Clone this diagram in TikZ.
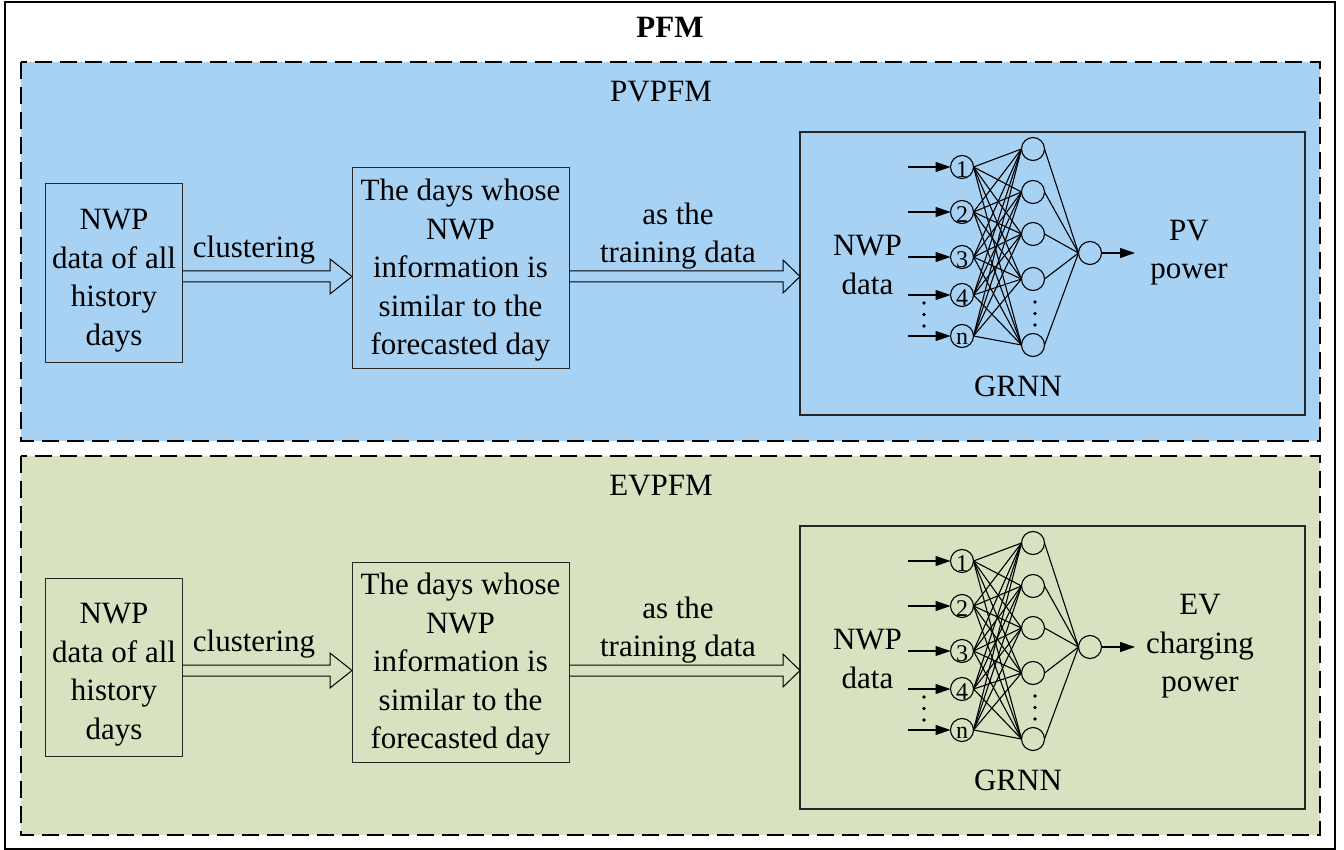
\documentclass[tikz,border=0pt]{standalone}
\usepackage{fontspec}
\setmainfont{Liberation Serif}
\usetikzlibrary{calc,arrows.meta}
\definecolor{pvblue}{RGB}{168,210,244}
\definecolor{evgreen}{RGB}{216,226,193}

\newcommand{\grnnpanel}[5]{% #1 prefix, #2 fill colour, #3 title, #4 output text, #5 output text x
  \fill[#2] (21,62) rectangle (1320,441);
  \draw[panelframe] (21,62) rectangle (1320,441);
  \node[txt] (#1title) at (661,92) {#3};
  % boxes
  \node[box, minimum width=137pt, minimum height=178.5pt] (#1b1) at (114,273.25) {};
  \node[txt] (#1t1) at (114,280.5) {NWP\\data of all\\history\\days};
  \node[box, minimum width=217pt, minimum height=200pt] (#1b2) at (460.5,268) {};
  \node[txt] (#1t2) at (460.5,270.5) {The days whose\\NWP\\information is\\similar to the\\forecasted day};
  \node[box, line width=1.8pt, minimum width=505pt, minimum height=283pt] (#1g) at (1052.5,273.5) {};
  % hollow arrows
  \draw[hollowarrow] (#1b1.east |- 0,271) -- (330,271) -- (330,259) -- (#1b2.west |- 0,276.5)
     -- (330,294) -- (330,282) -- (#1b1.east |- 0,282);
  \node[txt] (#1l1) at (254,250) {clustering};
  \draw[hollowarrow] (#1b2.east |- 0,271) -- (783,271) -- (783,260) -- (#1g.west |- 0,276.5)
     -- (783,293) -- (783,282) -- (#1b2.east |- 0,282);
  \node[txt] (#1l2) at (678,236) {as the\\training data};
  % network
  \foreach \i/\yy/\t in {1/167/1,2/212/2,3/257/3,4/295/4,5/336/n}{
    \node[neuron] (#1i\i) at (962,\yy) {};
    \node[digit] at (962,\yy+2.5) {\t};
    \coordinate (#1s\i) at (908,\yy);
    \draw[inarrow] (#1s\i) -- (#1i\i.west);
  }
  \foreach \j/\yy in {1/149,2/192,3/234,4/279,5/345}{
    \node[neuron] (#1h\j) at (1033,\yy) {};
  }
  \node[neuron] (#1o) at (1090,253) {};
  \foreach \i in {1,...,5}{
    \foreach \j in {1,...,5}{
      \draw[netline] (#1i\i.east) -- (#1h\j.west);
    }
  }
  \foreach \j in {1,...,5}{
    \draw[netline] (#1h\j.east) -- (#1o.west);
  }
  \coordinate (#1e) at (1135,253);
  \draw[inarrow] (#1o.east) -- (#1e);
  \foreach \yy in {303,314.5,326}{\fill (924,\yy) circle (1.8pt);}
  \foreach \yy in {302,313.5,325}{\fill (1035,\yy) circle (1.8pt);}
  \node[txt] (#1in) at (867.5,265) {NWP\\data};
  \node[txt] (#1out) at (#5,252.5) {#4};
  \node[txt] (#1name) at (1018,386) {GRNN};
}

\begin{document}
\begin{tikzpicture}[x=1pt,y=-1pt,
  txt/.style={font=\fontsize{31}{38.5}\selectfont, align=center, inner sep=0pt},
  box/.style={draw=black!85, line width=1pt, inner sep=0pt, outer sep=0pt},
  panelframe/.style={draw=black, line width=1.6pt, dash pattern=on 17pt off 8pt},
  hollowarrow/.style={draw=black, line width=1pt, line join=miter},
  neuron/.style={circle, draw=black, line width=1.1pt, inner sep=0pt, outer sep=0pt, minimum size=23pt},
  digit/.style={font=\fontsize{24}{24}\selectfont, inner sep=0pt},
  netline/.style={draw=black, line width=1.1pt},
  inarrow/.style={draw=black, line width=1.1pt, -{Triangle[length=15pt,width=10pt]}},
]
\useasboundingbox (0,0) rectangle (1344,850);
\fill[white] (0,0) rectangle (1344,850);
\draw[line width=1.6pt] (5,2) rectangle (1335,849);
\node[txt, font=\fontsize{31}{38.5}\selectfont\bfseries] (pfm) at (670,27.5) {PFM};
\grnnpanel{pv}{pvblue}{PVPFM}{PV\\power}{1189}
\begin{scope}[yshift=-394pt]
\grnnpanel{ev}{evgreen}{EVPFM}{EV\\charging\\power}{1200}
\end{scope}
\end{tikzpicture}
\end{document}
